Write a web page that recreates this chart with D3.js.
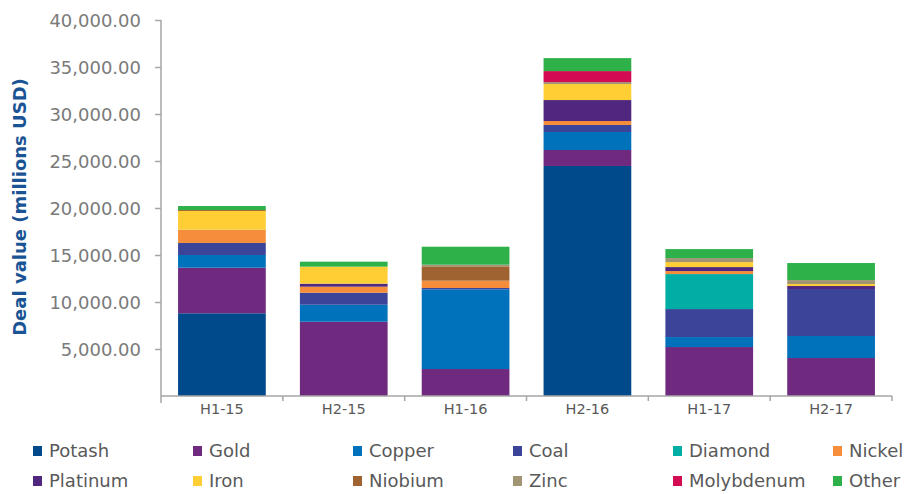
<!DOCTYPE html>
<html><head><meta charset="utf-8">
<script src="https://cdn.jsdelivr.net/npm/d3@7"></script>
<style>body{margin:0;background:#fff}svg{display:block}</style>
</head><body>
<svg id="c" width="916" height="494"></svg>
<script>
const categories = ["H1-15","H2-15","H1-16","H2-16","H1-17","H2-17"];
const seriesNames = ["Potash","Gold","Copper","Coal","Diamond","Nickel","Platinum","Iron","Niobium","Zinc","Molybdenum","Other"];
const potash     = [8800, 0, 0, 24470, 0, 0];
const gold       = [4850, 7900, 2870, 1700, 5210, 4040];
const copper     = [1350, 1810, 8480, 1915, 1060, 2340];
const coal       = [1280, 1280, 140, 745, 2980, 5000];
const diamond    = [0, 0, 0, 0, 3720, 0];
const nickel     = [1415, 640, 780, 425, 320, 0];
const platinum   = [0, 320, 0, 2230, 425, 320];
const iron       = [1990, 1810, 0, 1700, 530, 210];
const niobium    = [100, 0, 1520, 0, 0, 0];
const zinc       = [0, 0, 180, 210, 425, 425];
const molybdenum = [0, 0, 0, 1170, 0, 0];
const other      = [425, 530, 1910, 1380, 960, 1810];
const yTicks = [5000,10000,15000,20000,25000,30000,35000,40000];
const colors = ["#004a8c","#6f2a7f","#0071bb","#3c449a","#00aea6","#f68d3a","#50277f","#ffcd34","#9e6330","#a19574","#d30b52","#2fb14a"];

const seriesValues = [potash,gold,copper,coal,diamond,nickel,platinum,iron,niobium,zinc,molybdenum,other];
const rows = categories.map((c,i)=>{const r={cat:c};seriesNames.forEach((s,j)=>r[s]=seriesValues[j][i]);return r;});
const stacked = d3.stack().keys(seriesNames)(rows);

const svg = d3.select("#c");
const font = "'DejaVu Sans', sans-serif";
const x = d3.scaleBand().domain(categories).range([161, 892]).paddingInner(0.28).paddingOuter(0.14);
const y = d3.scaleLinear().domain([0, 40000]).range([396, 20]);

// bars
svg.append("g").selectAll("g").data(stacked).join("g")
  .attr("fill",(d,i)=>colors[i])
  .selectAll("rect").data(d=>d).join("rect")
  .attr("x",d=>x(d.data.cat))
  .attr("width",x.bandwidth())
  .attr("y",d=>y(d[1]))
  .attr("height",d=>Math.max(0,y(d[0])-y(d[1])));

// y axis
const yAxis = svg.append("g").attr("transform","translate(161,0)")
  .call(d3.axisLeft(y).tickValues(yTicks).tickSize(6).tickPadding(14)
    .tickFormat(d3.format(",.2f")));
yAxis.select(".domain").attr("stroke","#a6a6a6").attr("stroke-width",1.5).attr("d","M0,20V403");
yAxis.selectAll(".tick line").attr("stroke","#a6a6a6").attr("stroke-width",1.5);
yAxis.selectAll(".tick text").attr("fill","#7a7a7a").attr("font-family",font).attr("font-size",18).attr("dy","0.35em");

// x axis
const xAxis = svg.append("g").attr("transform","translate(0,396)")
  .call(d3.axisBottom(x).tickSize(0).tickPadding(8));
xAxis.select(".domain").attr("stroke","#a6a6a6").attr("stroke-width",1.5).attr("d","M161,0H892");
xAxis.selectAll(".tick text").attr("fill","#595959").attr("font-family",font).attr("font-size",14.5);
// boundary ticks
const bounds = categories.map(c=>x(c)-x.step()*x.paddingInner()/2).concat([892]);
xAxis.selectAll(".btick").data(bounds.slice(1)).join("line").attr("class","btick")
  .attr("x1",d=>d).attr("x2",d=>d).attr("y1",0).attr("y2",5)
  .attr("stroke","#a6a6a6").attr("stroke-width",1.5);

// y title
svg.append("text").attr("transform","translate(26,207) rotate(-90)")
  .attr("text-anchor","middle").attr("font-family",font).attr("font-weight","bold")
  .attr("font-size",18).attr("fill","#1a5495").text("Deal value (millions USD)");

// legend
const lg = svg.append("g");
seriesNames.forEach((s,i)=>{
  const col = i%6, row = Math.floor(i/6);
  const gx = 33 + col*160, gy = 451 + row*30;
  lg.append("rect").attr("x",gx).attr("y",gy-5).attr("width",9).attr("height",10).attr("fill",colors[i]);
  lg.append("text").attr("x",gx+16).attr("y",gy).attr("dy","0.36em")
    .attr("font-family",font).attr("font-size",18).attr("fill","#595959").text(s);
});
</script>
</body></html>
